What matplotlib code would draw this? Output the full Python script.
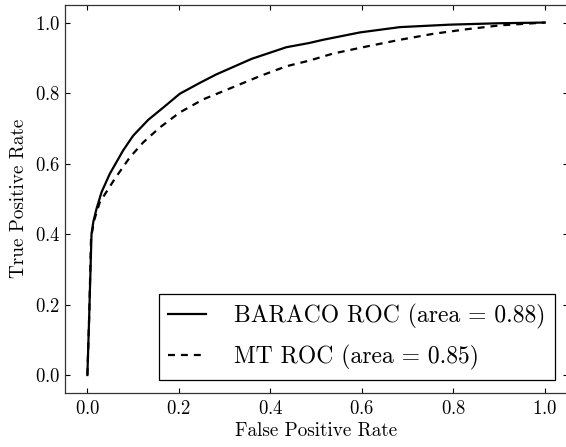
import matplotlib
matplotlib.use("Agg")
import matplotlib.pyplot as plt

# --- Daten ---

baraco_fpr = [0.0, 0.004, 0.009, 0.013, 0.02, 0.031, 0.049, 0.078, 0.10, 0.133,
              0.166, 0.202, 0.246, 0.282, 0.359, 0.435, 0.485, 0.515, 0.596,
              0.683, 0.792, 0.90, 1.0]
baraco_tpr = [0.0, 0.17, 0.40, 0.435, 0.472, 0.519, 0.571, 0.637, 0.679, 0.724,
              0.759, 0.798, 0.829, 0.853, 0.897, 0.930, 0.942, 0.951, 0.972,
              0.987, 0.994, 0.998, 1.0]

mt_fpr = [0.0, 0.004, 0.008, 0.015, 0.027, 0.06, 0.093, 0.122, 0.158, 0.202,
          0.253, 0.319, 0.377, 0.435, 0.485, 0.537, 0.610, 0.683, 0.756,
          0.829, 0.902, 1.0]
mt_tpr = [0.0, 0.17, 0.39, 0.44, 0.49, 0.557, 0.618, 0.660, 0.702, 0.745,
          0.782, 0.817, 0.848, 0.876, 0.892, 0.912, 0.932, 0.951, 0.968,
          0.981, 0.992, 1.0]

labels = ["BARACO ROC (area = 0.88)", "MT ROC (area = 0.85)"]
ticks = [0.0, 0.2, 0.4, 0.6, 0.8, 1.0]

# --- Stil ---

plt.rcParams['font.family'] = ['cmr10', 'DejaVu Serif']
plt.rcParams['axes.formatter.use_mathtext'] = True
plt.rcParams['lines.scale_dashes'] = False

fig = plt.figure(figsize=(5.66, 4.47), dpi=100)
ax = fig.add_axes([0.114, 0.1215, 0.889, 0.8675])

ax.plot(baraco_fpr, baraco_tpr, color='black', lw=1.6, label=labels[0])
ax.plot(mt_fpr, mt_tpr, color='black', lw=1.6, linestyle=(0, (5, 4.3)), label=labels[1])

ax.set_xlim(-0.05, 1.05)
ax.set_ylim(-0.05, 1.05)
ax.set_xticks(ticks)
ax.set_yticks(ticks)
ax.tick_params(direction='in', top=True, right=True, length=3.5, width=0.8,
               labelsize=13.5)
ax.tick_params(axis='x', pad=5)
ax.tick_params(axis='y', pad=3)
for sp in ax.spines.values():
    sp.set_linewidth(0.9)
    sp.set_color('0.2')

ax.set_xlabel("False Positive Rate", fontsize=13.8, labelpad=3)
ax.set_ylabel("True Positive Rate", fontsize=13.8, labelpad=5)

leg = ax.legend(loc='lower right', fontsize=17, fancybox=False, framealpha=1,
                edgecolor='black', handlelength=1.62, handletextpad=1.17,
                borderaxespad=0.55, labelspacing=0.7, borderpad=0.4)
leg.get_frame().set_linewidth(0.9)

fig.savefig("out.png", dpi=100)
